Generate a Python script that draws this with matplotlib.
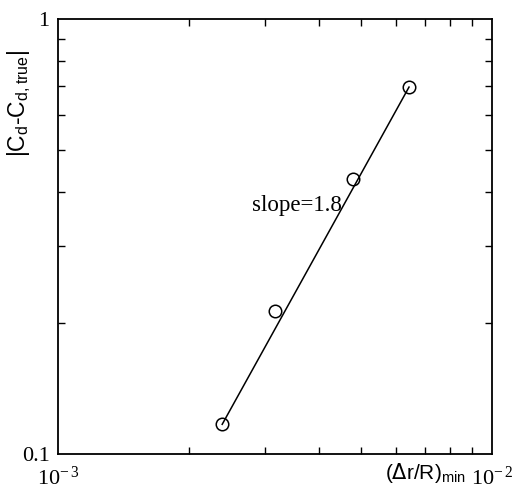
"""
|Cd - Cd,true| vs (dr/R)min convergence plot
"""

import matplotlib
matplotlib.use('Agg')
import matplotlib.pyplot as plt
from matplotlib.ticker import LogLocator, NullFormatter, FixedLocator

matplotlib.rcParams.update({
    'font.family': 'Liberation Serif',
    'mathtext.fontset': 'custom',
    'mathtext.rm': 'Liberation Serif',
    'font.size': 16,
})

# data
dr_min = [0.00239, 0.00316, 0.00478, 0.00644]
cd_err = [0.117, 0.213, 0.429, 0.697]

# fitted line (slope 1.8), drawn between first and last point
fit_x = [dr_min[0], dr_min[-1]]
fit_y = [cd_err[0], cd_err[-1]]

fig = plt.figure(figsize=(5.16, 4.90), dpi=100)
ax = fig.add_axes([0.1124, 0.0735, 0.841, 0.888])

ax.plot(fit_x, fit_y, color='black', lw=1.1)
ax.plot(dr_min, cd_err, linestyle='none', marker='o', markersize=9,
        markerfacecolor='none', markeredgecolor='black', markeredgewidth=1.1)

ax.set_xscale('log')
ax.set_yscale('log')
ax.set_xlim(1e-3, 1e-2)
ax.set_ylim(0.1, 1)

ax.xaxis.set_major_locator(FixedLocator([1e-3, 1e-2]))
ax.set_xticklabels([r'$\mathregular{10^{-\,3}}$', r'$\mathregular{10^{-\,2}}$'])
ax.yaxis.set_major_locator(FixedLocator([0.1, 1]))
ax.set_yticklabels(['0.1', '1'])
ax.xaxis.set_minor_locator(LogLocator(base=10, subs=range(2, 10)))
ax.yaxis.set_minor_locator(LogLocator(base=10, subs=range(2, 10)))
ax.xaxis.set_minor_formatter(NullFormatter())
ax.yaxis.set_minor_formatter(NullFormatter())

ax.tick_params(which='both', direction='in', top=True, right=True, width=1)
ax.tick_params(which='major', length=0, pad=6, labelsize=16)
ax.tick_params(axis='x', which='major', pad=9)
ax.tick_params(which='minor', length=5)
for s in ax.spines.values():
    s.set_linewidth(1.3)

ax.text(0.55, 0.572, 'slope=1.8', transform=ax.transAxes, fontsize=16.5,
        ha='center', va='center')

ax.text(0.846, -0.016, r'($\Delta$r/R)$_{\mathregular{min}}$', transform=ax.transAxes,
        fontsize=15, ha='center', va='top', family='Liberation Sans',
        math_fontfamily='dejavusans')
ax.text(-0.09, 0.805, r'|C$_{\mathregular{d}}$-C$_{\mathregular{d,true}}$|',
        transform=ax.transAxes, fontsize=16.5, rotation=90, ha='center', va='center',
        family='Liberation Sans', math_fontfamily='dejavusans')

fig.savefig('out.png', dpi=100)
plt.close(fig)
